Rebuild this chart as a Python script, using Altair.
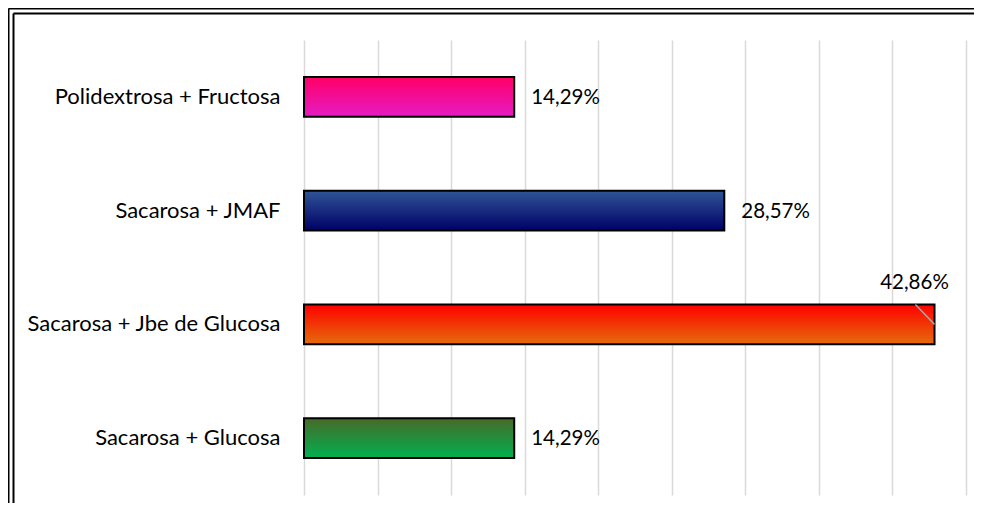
import altair as alt
import pandas as pd

categories = ["Polidextrosa + Fructosa", "Sacarosa + JMAF", "Sacarosa + Jbe de Glucosa", "Sacarosa + Glucosa"]
values = [14.29, 28.57, 42.86, 14.29]
labels = ["14,29%", "28,57%", "42,86%", "14,29%"]
grid_ticks = [0, 5, 10, 15, 20, 25, 30, 35, 40, 45]

top_colors = ["#FF0066", "#2F5597", "#FF0000", "#486A28"]
bottom_colors = ["#E41CC4", "#000066", "#E46C0A", "#00B050"]

df = pd.DataFrame({"cat": categories, "value": values, "label": labels})

W, H = 662, 455
FONT = "Lato"
FS_CAT = 22
FS_VAL = 20.5

def xenc():
    return alt.X("value:Q", scale=alt.Scale(domain=[0, 45], nice=False, zero=True),
                 axis=alt.Axis(values=grid_ticks, grid=True, gridColor="#d9d9d9", gridWidth=1.5,
                               labels=False, ticks=False, domain=False, title=None))

def yenc(**kw):
    return alt.Y("cat:N", sort=categories,
                 scale=alt.Scale(domain=categories, paddingInner=0.65, paddingOuter=0.325),
                 axis=alt.Axis(labelFont=FONT, labelFontSize=FS_CAT, labelColor="#000000", labelPadding=24,
                               labelLimit=400, ticks=False, domain=False, title=None, grid=False), **kw)

base = alt.Chart(df)
layers = []
for c, t, b in zip(categories, top_colors, bottom_colors):
    grad = alt.LinearGradient(gradient="linear", x1=0, x2=0, y1=0, y2=1,
                              stops=[alt.GradientStop(color=t, offset=0),
                                     alt.GradientStop(color=b, offset=1)])
    layers.append(
        base.transform_filter(alt.datum.cat == c)
        .mark_bar(fill=grad, stroke="#000000", strokeWidth=2)
        .encode(x=xenc(), y=yenc())
    )

big = categories[2]

text_normal = base.transform_filter(alt.datum.cat != big).mark_text(
    align="left", baseline="middle", dx=17, dy=1, font=FONT, fontSize=FS_VAL, color="#000000"
).encode(x=xenc(), y=yenc(), text="label:N")

text_big = base.transform_filter(alt.datum.cat == big).mark_text(
    align="center", baseline="middle", dx=-20, dy=-41, font=FONT, fontSize=FS_VAL, color="#000000"
).encode(x=xenc(), y=yenc(), text="label:N")

leader = base.transform_filter(alt.datum.cat == big).transform_calculate(
    x2v="datum.value - 1.3"
).mark_rule(color="#a6a6a6", strokeWidth=1.5).encode(
    x=xenc(), x2=alt.X2("x2v:Q"),
    y=yenc(bandPosition=0.5), y2=alt.Y2("cat:N", bandPosition=0)
)

# decorative double frame
frame_df = pd.DataFrame({"k": [0]})
fb = alt.Chart(frame_df)
frame = [
    fb.mark_rule(color="#000000", strokeWidth=2).encode(x=alt.value(-295.5), y=alt.value(-31.5), y2=alt.value(H + 40)),
    fb.mark_rule(color="#000000", strokeWidth=2).encode(x=alt.value(-290.5), y=alt.value(-26.5), y2=alt.value(H + 40)),
    fb.mark_rule(color="#000000", strokeWidth=2).encode(y=alt.value(-31.5), x=alt.value(-295.5), x2=alt.value(W + 40)),
    fb.mark_rule(color="#000000", strokeWidth=2).encode(y=alt.value(-26.5), x=alt.value(-290.5), x2=alt.value(W + 40)),
]

chart = alt.layer(*layers, leader, text_normal, text_big, *frame).properties(
    width=W, height=H,
    background="#ffffff",
    padding={"left": 296, "top": 32, "right": 8, "bottom": 8},
    autosize=alt.AutoSizeParams(type="none"),
).configure_view(strokeWidth=0, stroke="transparent")

chart.save("out.html", embed_options={"renderer": "svg", "actions": False})
